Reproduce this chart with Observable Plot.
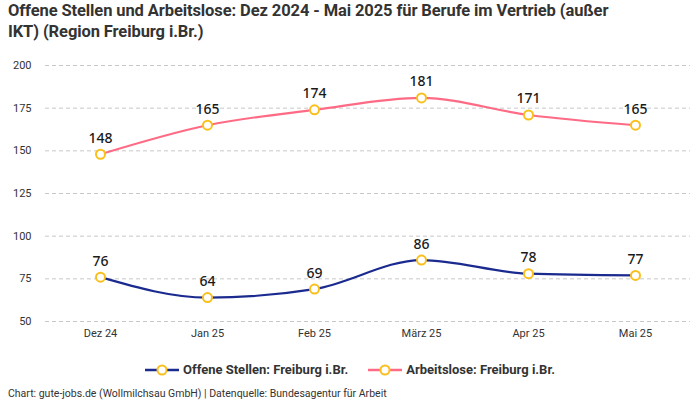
<!DOCTYPE html>
<html><head><meta charset="utf-8">
<script src="https://cdn.jsdelivr.net/npm/d3@7"></script>
<script src="https://cdn.jsdelivr.net/npm/@observablehq/plot@0.6"></script>
<style>
body{margin:0;width:700px;height:400px;background:#fff;font-family:"Roboto",sans-serif;position:relative;overflow:hidden}
#title{position:absolute;left:8px;top:0px;width:690px;font-weight:bold;font-size:16.5px;line-height:21px;color:#333;letter-spacing:-0.1px}
#chart{position:absolute;left:-2px;top:50px}
#legend{position:absolute;left:0;top:362px;width:700px;text-align:center;font-weight:bold;font-size:13px;color:#333}
#legend span.item{display:inline-flex;align-items:center;margin:0 10px}
#legend svg{margin-right:4px}
#caption{position:absolute;left:8px;top:387px;font-size:10.5px;color:#333}
</style></head><body>
<div id="title">Offene Stellen und Arbeitslose: Dez 2024 - Mai 2025 für Berufe im Vertrieb (außer<br>IKT) (Region Freiburg i.Br.)</div>
<div id="chart"></div>
<div id="legend"></div>
<div id="caption">Chart: gute-jobs.de (Wollmilchsau GmbH) | Datenquelle: Bundesagentur für Arbeit</div>
<script>
const months = ["Dez 24","Jan 25","Feb 25","März 25","Apr 25","Mai 25"];
const offeneStellen = [76,64,69,86,78,77];
const arbeitslose = [148,165,174,181,171,165];
const seriesNames = ["Offene Stellen: Freiburg i.Br.","Arbeitslose: Freiburg i.Br."];
const seriesColors = ["#1b2a8f","#ff6b85"];
const yTicks = [50,75,100,125,150,175,200];

const data = [];
months.forEach((m,i)=>{
  data.push({month:m, value:offeneStellen[i], series:seriesNames[0]});
  data.push({month:m, value:arbeitslose[i], series:seriesNames[1]});
});

const chart = Plot.plot({
  width:700, height:300,
  marginLeft:47, marginRight:8, marginTop:15, marginBottom:29,
  style:{fontFamily:"Roboto,sans-serif", fontSize:"11px", color:"#333"},
  x:{type:"point", domain:months, label:null, tickSize:0, tickPadding:8},
  y:{domain:[50,200], ticks:yTicks, label:null, tickSize:0, tickPadding:14},
  color:{domain:seriesNames, range:seriesColors},
  marks:[
    Plot.gridY(yTicks,{stroke:"#c8c8c8", strokeOpacity:1, strokeDasharray:"4,3"}),
    Plot.line(data,{x:"month", y:"value", z:"series", stroke:"series", strokeWidth:2.2, curve:"monotone-x"}),
    Plot.dot(data,{x:"month", y:"value", r:4.5, fill:"white", stroke:"#f9c01c", strokeWidth:2}),
    Plot.text(data,{x:"month", y:"value", text:d=>String(d.value), dy:-16, fontSize:14, fontWeight:500, fill:"#1a1a1a", fontFamily:"'Noto Sans',sans-serif"})
  ]
});
document.getElementById("chart").appendChild(chart);

const leg = document.getElementById("legend");
seriesNames.forEach((n,i)=>{
  const s = document.createElement("span");
  s.className="item";
  s.innerHTML = `<svg width="34" height="14"><line x1="0" y1="7" x2="34" y2="7" stroke="${seriesColors[i]}" stroke-width="2.5"/><circle cx="17" cy="7" r="4.5" fill="white" stroke="#f9c01c" stroke-width="2"/></svg>${n}`;
  leg.appendChild(s);
});
</script>
</body></html>
